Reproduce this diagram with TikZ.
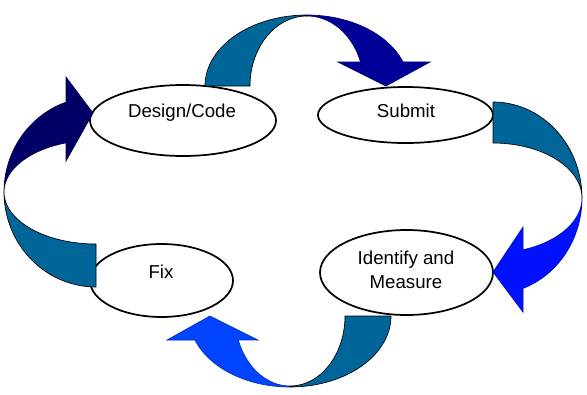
\documentclass[tikz,border=0pt]{standalone}
\usepackage{fontspec}
\setmainfont{Liberation Sans}
\usetikzlibrary{shapes.geometric}
\definecolor{tealc}{HTML}{006699}
\definecolor{headA}{HTML}{000099}
\definecolor{headB}{HTML}{0011FF}
\definecolor{headC}{HTML}{0044FF}
\definecolor{headD}{HTML}{000066}
\begin{document}
\begin{tikzpicture}[x=0.75pt,y=-0.75pt,
  blob/.style={draw=black, line width=1.3pt, ellipse, fill=white, inner sep=0pt},
  lbl/.style={font=\fontsize{14}{18}\selectfont, align=center, inner sep=0pt},
  tailpart/.style={fill=tealc, draw=black, line width=0.5pt},
  headpart/.style={fill=#1, draw=#1!70!black, line width=0.5pt}]
\useasboundingbox (0,0) rectangle (587,394);

% ellipses
\node[blob, minimum width=139.5pt, minimum height=53.25pt] (dc) at (183,120.5) {};
\node[lbl] (dct) at (182,113) {Design/Code};
\node[blob, minimum width=131.25pt, minimum height=42pt] (sb) at (405.5,115) {};
\node[lbl] (sbt) at (406,111) {Submit};
\node[blob, minimum width=107.25pt, minimum height=54.75pt] (fx) at (161.5,280.5) {};
\node[lbl] (fxt) at (161,272) {Fix};
\node[blob, minimum width=129.75pt, minimum height=63.75pt] (im) at (406.5,272.5) {};
\node[lbl] (imt) at (406,270) {Identify and\\Measure};

% top arrow
\path[tailpart] plot[domain=180:270, samples=40, variable=\t] ({307+102*cos(\t)},{86+71*sin(\t)})
  -- plot[domain=270:180, samples=40, variable=\t] ({307+57*cos(\t)},{86+70*sin(\t)}) -- cycle;
\path[headpart=headA] plot[domain=270:340.2, samples=40, variable=\t] ({307+102*cos(\t)},{86+71*sin(\t)})
  -- (430,62) -- (386,86) -- (338,62)
  -- plot[domain=340:270, samples=40, variable=\t] ({307+57*cos(\t)},{86+70*sin(\t)}) -- cycle;

% right arrow
\path[tailpart] plot[domain=270:360, samples=40, variable=\t] ({493+89*cos(\t)},{198+96*sin(\t)})
  -- plot[domain=360:270, samples=40, variable=\t] ({493+89*cos(\t)},{198+55*sin(\t)}) -- cycle;
\path[headpart=headB] plot[domain=0:70.3, samples=40, variable=\t] ({493+89*cos(\t)},{198+96*sin(\t)})
  -- (523,312) -- (493,272) -- (523,227)
  -- plot[domain=70.3:0, samples=40, variable=\t] ({493+89*cos(\t)},{198+55*sin(\t)}) -- cycle;

% bottom arrow
\path[tailpart] plot[domain=0:90, samples=40, variable=\t] ({290+101*cos(\t)},{316+71*sin(\t)})
  -- plot[domain=90:0, samples=40, variable=\t] ({290+55*cos(\t)},{316+70*sin(\t)}) -- cycle;
\path[headpart=headC] plot[domain=90:160.2, samples=40, variable=\t] ({290+101*cos(\t)},{316+71*sin(\t)})
  -- (167,340) -- (210,316) -- (258,340)
  -- plot[domain=160:90, samples=40, variable=\t] ({290+55*cos(\t)},{316+70*sin(\t)}) -- cycle;

% left arrow
\path[tailpart] plot[domain=90:180, samples=40, variable=\t] ({96+92*cos(\t)},{192+95*sin(\t)})
  -- plot[domain=180:90, samples=40, variable=\t] ({96+92*cos(\t)},{192+52*sin(\t)}) -- cycle;
\path[headpart=headD] plot[domain=180:251, samples=40, variable=\t] ({96+92*cos(\t)},{192+95*sin(\t)})
  -- (66,77) -- (93,113) -- (66,161)
  -- plot[domain=251:180, samples=40, variable=\t] ({96+92*cos(\t)},{192+52*sin(\t)}) -- cycle;
\end{tikzpicture}
\end{document}
